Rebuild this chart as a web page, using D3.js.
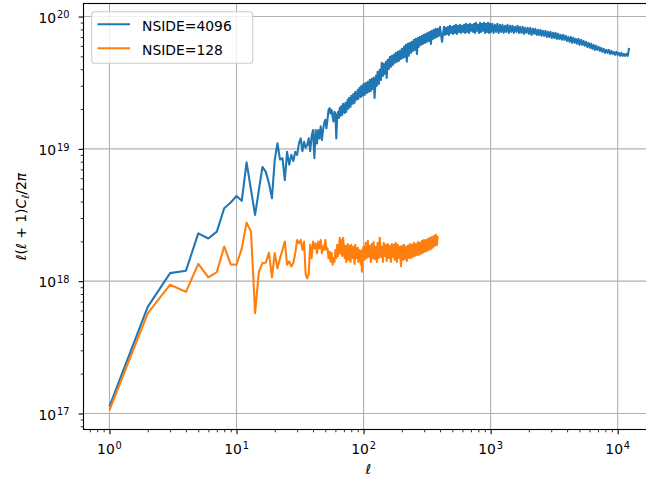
<!DOCTYPE html>
<html>
<head>
<meta charset="utf-8">
<script src="https://cdn.jsdelivr.net/npm/d3@7"></script>
<style>
  body { margin: 0; background: #fff; }
  svg { display: block; font-family: "DejaVu Sans", sans-serif; }
</style>
</head>
<body>
<svg id="chart" width="646" height="481"></svg>
<script>
// [ell, ell(ell+1)C_ell/2pi]
const nside4096 = [
  [1, 1.13e17], [2, 6.4e17], [3, 1.15e18], [4, 1.2e18], [5, 2.3e18], [6, 2.1e18], [7, 2.37e18],
  [8, 3.56e18], [9, 3.93e18], [10, 4.4e18], [11, 4.05e18], [12, 7.9e18], [13, 4.9e18], [14, 3.17e18],
  [15, 4.9e18], [16, 7.3e18], [17, 6.7e18], [18, 5.5e18], [19, 4.24e18], [20, 8.3e18], [21, 1.1e19],
  [22, 8.3e18], [23, 8.5e18], [24, 5.8e18], [25, 9.5e18], [26, 7.6e18], [27, 9.0e18], [28, 8.1e18],
  [29, 9.5e18], [30, 9.0e18], [31, 1.1e19], [32, 1.2e19], [33, 9.6e18], [34, 1.13e19], [35, 1.02e19],
  [36, 1.07e19], [37, 1.2e19], [38, 9.6e18], [39, 1.24e19], [40, 1.39e19], [41, 8.5e18], [42, 1.39e19],
  [43, 1.1e19], [44, 1.39e19], [45, 1.2e19], [46, 1.48e19], [47, 1.17e19], [48, 1.39e19], [49, 1.57e19],
  [50, 1.66e19], [51, 1.43e19], [52, 1.66e19], [53, 1.97e19], [54, 2.03e19], [55, 1.85e19], [56, 1.97e19],
  [57, 1.76e19], [58, 1.61e19], [59, 1.91e19], [60, 1.85e19], [61, 1.2e19], [62, 1.76e19], [63, 1.91e19],
  [64, 1.71e19], [65, 2.04e19], [66, 1.78e19], [67, 2.11e19], [68, 1.81e19], [69, 2.19e19], [71, 1.87e19],
  [72, 2.23e19], [73, 1.90e19], [75, 2.35e19], [76, 2.01e19], [77, 2.43e19], [79, 2.08e19], [80, 2.52e19],
  [82, 2.19e19], [83, 2.60e19], [85, 2.23e19], [86, 2.70e19], [88, 2.35e19], [90, 2.79e19], [91, 2.39e19],
  [93, 2.89e19], [95, 2.47e19], [96, 2.99e19], [98, 2.52e19], [100, 3.10e19], [102, 2.56e19], [104, 3.15e19],
  [106, 2.65e19], [108, 3.21e19], [110, 2.70e19], [112, 3.32e19], [114, 2.74e19], [116, 3.38e19], [118, 2.84e19],
  [120, 3.44e19], [122, 2.43e19], [125, 3.56e19], [127, 2.99e19], [129, 3.82e19], [132, 3.10e19], [134, 3.96e19],
  [137, 3.32e19], [139, 4.47e19], [142, 3.56e19], [144, 4.39e19], [147, 3.69e19], [150, 4.55e19], [152, 3.44e19],
  [155, 4.71e19], [158, 4.02e19], [161, 4.96e19], [164, 4.17e19], [167, 5.05e19], [170, 4.31e19], [173, 5.13e19],
  [176, 4.47e19], [179, 5.32e19], [183, 4.55e19], [186, 5.41e19], [190, 4.63e19], [193, 5.50e19], [197, 4.79e19],
  [200, 5.70e19], [204, 4.87e19], [208, 5.90e19], [211, 4.96e19], [215, 6.11e19], [219, 4.55e19], [223, 6.22e19],
  [227, 5.05e19], [231, 6.33e19], [236, 5.32e19], [240, 6.44e19], [244, 5.50e19], [249, 6.67e19], [253, 5.60e19],
  [258, 6.78e19], [263, 5.22e19], [268, 6.90e19], [272, 5.90e19], [277, 7.02e19], [283, 6.11e19], [288, 7.15e19],
  [293, 6.22e19], [298, 7.27e19], [304, 6.33e19], [309, 7.40e19], [315, 6.44e19], [321, 7.53e19], [327, 6.55e19],
  [333, 7.66e19], [339, 6.22e19], [345, 7.80e19], [351, 6.78e19], [358, 7.93e19], [364, 6.90e19], [371, 8.07e19],
  [378, 7.02e19], [385, 8.07e19], [392, 7.15e19],
  [400, 8.36e19], [407, 7.27e19], [415, 6.44e19], [422, 7.40e19], [430, 8.36e19], [438, 7.27e19], [446, 8.21e19],
  [454, 7.40e19], [462, 8.36e19], [470, 7.27e19], [479, 8.51e19], [488, 7.53e19], [497, 8.36e19], [506, 7.40e19],
  [515, 8.51e19], [525, 7.53e19], [534, 8.65e19], [544, 7.40e19], [554, 8.51e19], [564, 7.66e19], [575, 8.65e19],
  [585, 7.53e19], [596, 8.51e19], [607, 7.66e19], [618, 8.65e19], [630, 7.53e19], [641, 8.81e19], [653, 7.66e19],
  [665, 8.65e19], [677, 7.53e19], [689, 8.81e19], [702, 7.80e19], [715, 8.65e19], [728, 7.66e19], [741, 8.81e19],
  [755, 7.53e19], [768, 8.96e19], [782, 7.80e19], [797, 8.65e19], [811, 7.53e19], [826, 8.96e19], [841, 7.66e19],
  [857, 8.81e19], [872, 7.80e19], [888, 8.96e19], [905, 7.53e19], [921, 8.81e19], [938, 7.66e19], [955, 8.96e19],
  [973, 7.53e19], [990, 8.81e19], [1008, 7.66e19], [1031, 8.81e19], [1055, 7.53e19], [1080, 8.65e19],
  [1105, 7.66e19], [1130, 8.81e19], [1157, 7.53e19], [1183, 8.65e19], [1211, 7.66e19], [1239, 8.65e19],
  [1268, 7.53e19], [1297, 8.51e19], [1327, 7.66e19], [1358, 8.65e19], [1390, 7.53e19], [1422, 8.51e19],
  [1455, 7.66e19], [1489, 8.51e19], [1523, 7.53e19], [1559, 8.36e19], [1595, 7.66e19], [1632, 8.51e19],
  [1670, 7.53e19], [1708, 8.36e19], [1748, 7.53e19], [1789, 8.36e19], [1830, 7.40e19], [1872, 8.21e19],
  [1916, 7.53e19], [1960, 8.21e19], [2006, 7.40e19], [2052, 8.21e19], [2100, 7.27e19], [2149, 8.07e19],
  [2198, 7.40e19], [2249, 8.07e19], [2302, 7.27e19], [2355, 7.93e19], [2410, 7.27e19], [2466, 7.93e19],
  [2523, 7.15e19], [2581, 7.80e19], [2641, 7.15e19], [2702, 7.80e19], [2765, 7.02e19], [2829, 7.66e19],
  [2895, 7.02e19], [2962, 7.66e19], [3031, 6.90e19], [3101, 7.53e19], [3173, 6.90e19], [3247, 7.53e19],
  [3322, 6.78e19], [3399, 7.40e19], [3478, 6.78e19], [3559, 7.27e19], [3641, 6.67e19], [3726, 7.27e19],
  [3812, 6.67e19], [3901, 7.15e19], [3991, 6.55e19], [4084, 7.02e19], [4179, 6.44e19], [4276, 7.02e19],
  [4375, 6.33e19], [4476, 6.90e19], [4580, 6.33e19], [4687, 6.78e19], [4795, 6.22e19], [4907, 6.78e19],
  [5021, 6.11e19], [5137, 6.67e19], [5256, 6.11e19], [5378, 6.55e19], [5503, 6.01e19], [5631, 6.44e19],
  [5762, 5.90e19], [5895, 6.33e19], [6032, 5.80e19], [6172, 6.22e19], [6315, 5.70e19], [6462, 6.11e19],
  [6612, 5.60e19], [6765, 6.01e19], [6922, 5.60e19], [7083, 5.90e19], [7247, 5.50e19], [7415, 5.80e19],
  [7587, 5.41e19], [7763, 5.70e19], [7943, 5.32e19], [8128, 5.60e19], [8316, 5.32e19], [8509, 5.60e19],
  [8707, 5.22e19], [8909, 5.50e19], [9115, 5.22e19], [9327, 5.41e19], [9543, 5.13e19], [9765, 5.41e19],
  [9991, 5.13e19], [10223, 5.32e19], [10460, 5.05e19], [10703, 5.32e19], [10951, 5.05e19], [11205, 5.22e19],
  [11465, 5.05e19], [11731, 5.22e19], [12003, 5.05e19], [12140, 5.32e19], [12287, 5.80e19]
];

const nside128 = [
  [1, 1.06e17], [2, 5.7e17], [3, 9.4e17], [4, 8.3e17], [5, 1.35e18], [6, 1.07e18], [7, 1.17e18],
  [8, 1.83e18], [9, 1.34e18], [10, 1.33e18], [11, 1.77e18], [12, 2.77e18], [13, 2.37e18], [14, 5.73e17],
  [15, 1.18e18], [16, 1.37e18], [17, 1.38e18], [18, 1.64e18], [19, 1.07e18], [20, 1.63e18], [21, 1.25e18],
  [22, 1.49e18], [23, 1.73e18], [24, 1.99e18], [25, 1.33e18], [26, 1.41e18], [27, 1.29e18], [28, 1.37e18],
  [29, 1.63e18], [30, 2.05e18], [31, 1.93e18], [32, 2.05e18], [33, 1.73e18], [34, 1.99e18], [35, 1.13e18],
  [36, 1.05e18], [37, 1.13e18], [38, 1.88e18], [39, 1.49e18], [40, 1.99e18], [41, 1.77e18], [42, 1.93e18],
  [43, 1.63e18], [44, 1.99e18], [45, 1.77e18], [46, 2.05e18], [47, 1.63e18], [48, 1.83e18], [49, 1.73e18],
  [50, 2.05e18], [51, 1.73e18], [52, 1.77e18], [53, 1.49e18], [54, 1.67e18], [55, 1.41e18], [56, 1.63e18],
  [57, 1.33e18], [58, 1.49e18], [59, 1.40e18], [60, 1.72e18], [61, 1.50e18], [62, 1.88e18], [63, 1.55e18],
  [64, 1.82e18], [65, 2.13e18], [66, 1.61e18], [67, 2.05e18], [68, 1.55e18], [69, 2.13e18], [71, 1.50e18],
  [72, 1.85e18], [73, 1.40e18], [75, 1.91e18], [76, 1.45e18], [77, 1.85e18], [79, 1.40e18], [80, 1.88e18],
  [82, 1.50e18], [83, 1.82e18], [85, 1.35e18], [86, 1.88e18], [88, 1.50e18], [90, 1.79e18], [91, 1.40e18],
  [93, 1.72e18], [95, 1.35e18], [96, 1.69e18], [97, 1.18e18], [98, 1.72e18], [100, 1.82e18], [102, 1.45e18],
  [104, 1.95e18], [106, 1.50e18], [108, 2.02e18], [110, 1.53e18], [112, 1.85e18], [114, 1.40e18], [116, 1.91e18],
  [118, 1.50e18], [120, 1.98e18], [122, 1.47e18], [125, 1.82e18], [127, 1.40e18], [129, 1.95e18], [132, 1.50e18],
  [134, 2.13e18], [137, 1.53e18], [139, 1.82e18], [142, 1.40e18], [144, 1.95e18], [147, 1.55e18], [150, 1.88e18],
  [152, 1.42e18], [155, 1.91e18], [158, 1.50e18], [161, 1.85e18], [164, 1.40e18], [167, 1.91e18], [170, 1.53e18],
  [173, 1.88e18], [176, 1.45e18], [179, 1.95e18], [183, 1.40e18], [186, 1.88e18], [190, 1.50e18], [193, 1.82e18],
  [197, 1.30e18], [200, 1.85e18], [204, 1.45e18], [208, 1.88e18], [211, 1.47e18], [215, 1.82e18], [219, 1.42e18],
  [223, 1.85e18], [227, 1.50e18], [231, 1.91e18], [236, 1.50e18], [240, 1.88e18], [244, 1.53e18], [249, 1.95e18],
  [253, 1.55e18], [258, 1.91e18], [263, 1.58e18], [268, 1.98e18], [272, 1.58e18], [277, 1.95e18], [283, 1.61e18],
  [288, 2.02e18], [293, 1.64e18], [298, 2.05e18], [304, 1.67e18], [309, 2.05e18], [315, 1.69e18], [321, 2.09e18],
  [327, 1.72e18], [333, 2.13e18], [339, 1.75e18], [345, 2.16e18], [351, 1.79e18], [358, 2.20e18], [364, 1.85e18],
  [371, 2.24e18], [378, 1.88e18], [383, 2.20e18]
];

const seriesNames = ["NSIDE=4096", "NSIDE=128"];
const seriesColors = ["#1f77b4", "#ff7f0e"];
const xTickExps = [0, 1, 2, 3, 4];
const yTickExps = [17, 18, 19, 20];

const svg = d3.select('#chart');
const plot = { left: 83.5, right: 655, top: 3.5, bottom: 429.5 };

// matplotlib-style 5% margins in log space
const logPad = (ext) => {
  const m = (ext[1] - ext[0]) * 0.05;
  return [Math.pow(10, ext[0] - m), Math.pow(10, ext[1] + m)];
};
const allPts = nside4096.concat(nside128);
const x = d3.scaleLog()
  .domain(logPad(d3.extent(allPts, d => Math.log10(d[0]))))
  .range([plot.left, plot.right]);
const y = d3.scaleLog()
  .domain(logPad(d3.extent(allPts, d => Math.log10(d[1]))))
  .range([plot.bottom, plot.top]);

const xMajor = xTickExps.map(e => Math.pow(10, e));
const yMajor = yTickExps.map(e => Math.pow(10, e));
const minorsFor = (scale) => {
  const [d0, d1] = scale.domain();
  const out = [];
  for (let e = Math.floor(Math.log10(d0)); e <= Math.ceil(Math.log10(d1)); e++) {
    for (let k = 2; k <= 9; k++) {
      const v = k * Math.pow(10, e);
      if (v >= d0 && v <= d1) out.push(v);
    }
  }
  return out;
};

// grid
const grid = svg.append('g').attr('stroke', '#b0b0b0').attr('stroke-width', 1.11);
grid.selectAll('.gx').data(xMajor).enter().append('line')
  .attr('x1', d => x(d)).attr('x2', d => x(d))
  .attr('y1', plot.top).attr('y2', plot.bottom);
grid.selectAll('.gy').data(yMajor).enter().append('line')
  .attr('x1', plot.left).attr('x2', plot.right)
  .attr('y1', d => y(d)).attr('y2', d => y(d));

// lines
const line = d3.line().x(d => x(d[0])).y(d => y(d[1]));
[nside4096, nside128].forEach((series, i) => {
  svg.append('path')
    .datum(series)
    .attr('d', line)
    .attr('fill', 'none')
    .attr('stroke', seriesColors[i])
    .attr('stroke-width', 2.08)
    .attr('stroke-linejoin', 'round');
});

// spines
svg.append('rect')
  .attr('x', plot.left).attr('y', plot.top)
  .attr('width', plot.right - plot.left).attr('height', plot.bottom - plot.top)
  .attr('fill', 'none').attr('stroke', '#000').attr('stroke-width', 1.11);

// ticks
const xAxisMajor = d3.axisBottom(x).tickValues(xMajor).tickSize(4.86).tickFormat('');
const xAxisMinor = d3.axisBottom(x).tickValues(minorsFor(x)).tickSize(2.78).tickFormat('');
const yAxisMajor = d3.axisLeft(y).tickValues(yMajor).tickSize(4.86).tickFormat('');
const yAxisMinor = d3.axisLeft(y).tickValues(minorsFor(y)).tickSize(2.78).tickFormat('');

const styleAxis = (g, w) => {
  g.select('.domain').remove();
  g.selectAll('.tick line').attr('stroke', '#000').attr('stroke-width', w);
};
svg.append('g').attr('transform', `translate(0,${plot.bottom})`).call(xAxisMajor).call(g => styleAxis(g, 1.11));
svg.append('g').attr('transform', `translate(0,${plot.bottom})`).call(xAxisMinor).call(g => styleAxis(g, 0.83));
svg.append('g').attr('transform', `translate(${plot.left},0)`).call(yAxisMajor).call(g => styleAxis(g, 1.11));
svg.append('g').attr('transform', `translate(${plot.left},0)`).call(yAxisMinor).call(g => styleAxis(g, 0.83));

// tick labels with superscript exponents
const fs = 13.9;
const powLabel = (sel, e) => {
  sel.append('tspan').text('10');
  sel.append('tspan').attr('font-size', 9.8).attr('dy', -4.6).attr('dx', 0.8).text(e);
};
xTickExps.forEach(e => {
  const t = svg.append('text')
    .attr('x', x(Math.pow(10, e))).attr('y', 454)
    .attr('text-anchor', 'middle').attr('font-size', fs).attr('fill', '#000');
  powLabel(t, e);
});
yTickExps.forEach(e => {
  const t = svg.append('text')
    .attr('x', 69.5).attr('y', y(Math.pow(10, e)) + 6.3)
    .attr('text-anchor', 'end').attr('font-size', fs).attr('fill', '#000');
  powLabel(t, e);
});

// axis labels
svg.append('text')
  .attr('x', (plot.left + plot.right) / 2 - 1).attr('y', 474)
  .attr('text-anchor', 'middle').attr('font-size', fs).attr('font-style', 'italic')
  .text('ℓ');

const yl = svg.append('text')
  .attr('transform', `translate(26,${(plot.top + plot.bottom) / 2}) rotate(-90)`)
  .attr('text-anchor', 'middle').attr('font-size', fs);
yl.append('tspan').attr('font-style', 'italic').text('ℓ');
yl.append('tspan').text('(');
yl.append('tspan').attr('font-style', 'italic').text('ℓ');
yl.append('tspan').text(' + 1)');
yl.append('tspan').attr('font-style', 'italic').text('C');
yl.append('tspan').attr('font-style', 'italic').attr('font-size', 9.8).attr('dy', 2.5).text('ℓ');
yl.append('tspan').attr('dy', -2.5).text('/2');
yl.append('tspan').attr('font-style', 'italic').text('π');

// legend
const legend = svg.append('g');
legend.append('rect')
  .attr('x', 91.7).attr('y', 11.7).attr('width', 161).attr('height', 51.6)
  .attr('rx', 2.8).attr('fill', '#fff').attr('fill-opacity', 0.8)
  .attr('stroke', '#cccccc').attr('stroke-width', 1.11);
seriesNames.forEach((name, i) => {
  const yy = 24.3 + i * 24;
  legend.append('line')
    .attr('x1', 97.5).attr('x2', 130).attr('y1', yy).attr('y2', yy)
    .attr('stroke', seriesColors[i]).attr('stroke-width', 2.08);
  legend.append('text')
    .attr('x', 142).attr('y', yy + 6.4)
    .attr('font-size', fs).attr('fill', '#000')
    .text(name);
});
</script>
</body>
</html>
